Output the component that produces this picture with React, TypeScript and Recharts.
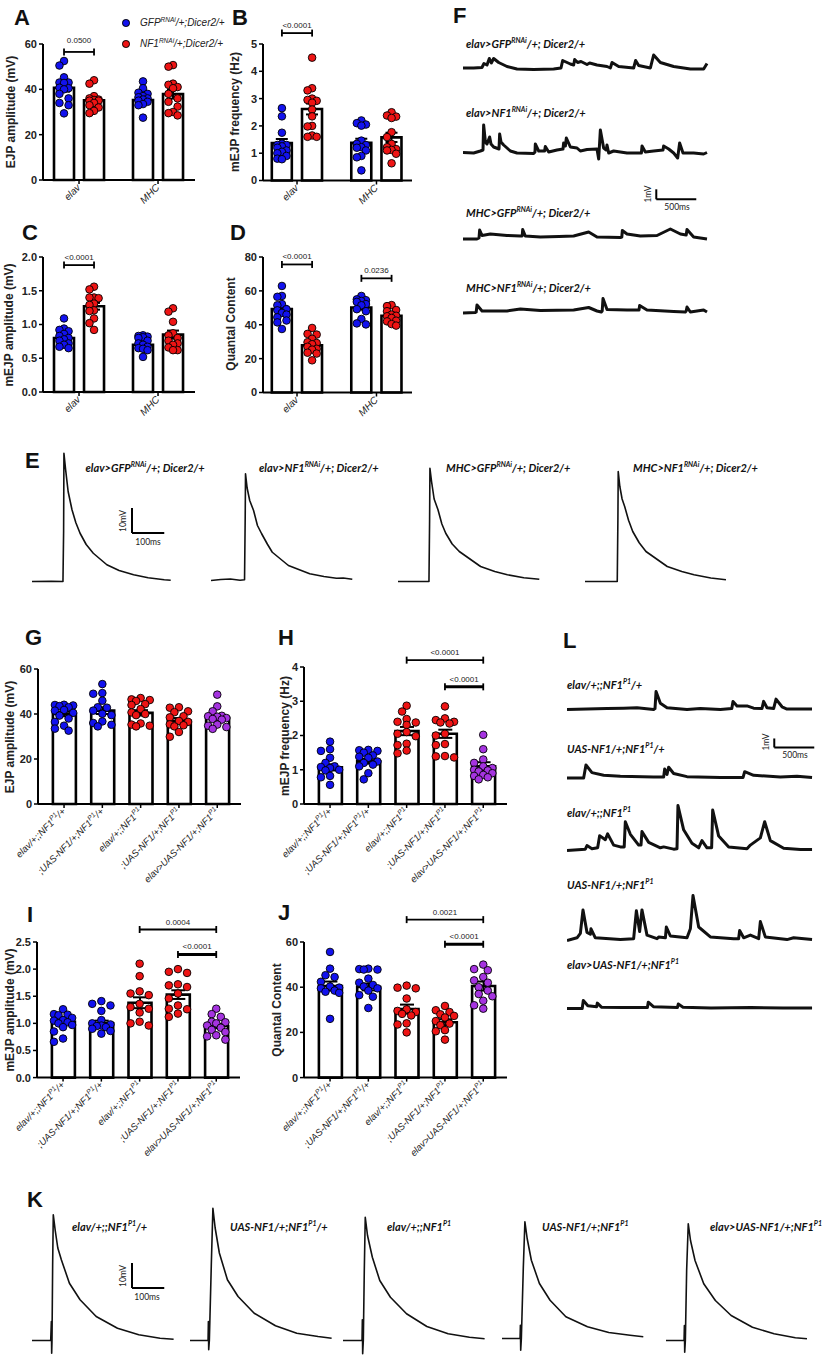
import React from 'react';
import { ComposedChart, Bar, Scatter, XAxis, YAxis, ErrorBar, ReferenceLine, LineChart, Line } from 'recharts';

const FONT = '"Liberation Sans", Arial, sans-serif';
const TFONT = 'Lato, "Open Sans", sans-serif';
const BLUE = '#1212ee';
const RED = '#ee1414';
const PURPLE = '#a533e0';

// ---------------- Panels A-D (RNAi) ----------------
const rnaiCategories = ['elav', 'MHC'];
const legendLabels = ['GFP^{RNAi}/+;Dicer2/+', 'NF1^{RNAi}/+;Dicer2/+'];

// order: elav-GFP, elav-NF1, MHC-GFP, MHC-NF1
const aMeans = [40.7, 35.2, 35.3, 37.9];
const aSem = [1.7, 1.2, 1.1, 2.0];
const aElavGfp = [52.5, 50.5, 45.3, 43, 43, 42.8, 40.7, 40.5, 40, 38, 36, 34, 33, 29.4];
const aElavNf1 = [44, 42.5, 37, 36, 35.5, 35.3, 35, 35, 34, 33, 32, 30.5, 29.5];
const aMhcGfp = [43.5, 40.5, 38.5, 38, 37, 36.5, 36, 35.5, 35, 34.5, 33.5, 33, 27.5];
const aMhcNf1 = [50.7, 50, 42.5, 42, 41, 40.5, 38, 36, 34.5, 32.4, 30, 29.5, 28.5];

const bMeans = [1.37, 2.62, 1.38, 1.58];
const bSem = [0.15, 0.2, 0.15, 0.17];
const bElavGfp = [2.65, 2.35, 1.75, 1.35, 1.3, 1.3, 1.25, 1.2, 1.1, 1.05, 1.0, 0.9, 0.8, 0.78];
const bElavNf1 = [4.5, 3.38, 3.3, 3.0, 2.95, 2.92, 2.85, 2.6, 2.35, 2.0, 1.98, 1.65, 1.6, 1.6];
const bMhcGfp = [2.2, 2.1, 2.05, 2.01, 1.46, 1.34, 1.3, 1.22, 1.2, 1.1, 0.9, 0.85, 0.37];
const bMhcNf1 = [2.5, 2.38, 2.34, 2.29, 1.77, 1.59, 1.34, 1.22, 1.15, 1.12, 1.1, 0.98, 0.63];

const cMeans = [0.8, 1.27, 0.7, 0.85];
const cSem = [0.03, 0.05, 0.03, 0.06];
const cElavGfp = [1.09, 0.94, 0.92, 0.9, 0.86, 0.83, 0.8, 0.78, 0.76, 0.72, 0.7, 0.67, 0.65];
const cElavNf1 = [1.56, 1.52, 1.4, 1.4, 1.39, 1.31, 1.29, 1.21, 1.2, 1.09, 1.02, 0.92];
const cMhcGfp = [0.84, 0.83, 0.82, 0.81, 0.8, 0.76, 0.72, 0.7, 0.67, 0.65, 0.64, 0.62, 0.52];
const cMhcNf1 = [1.24, 1.19, 1.04, 0.87, 0.84, 0.8, 0.76, 0.72, 0.7, 0.66, 0.62, 0.62];

const dMeans = [49.3, 27.8, 50.2, 45.3];
const dSem = [1.8, 1.4, 1.3, 1.0];
const dElavGfp = [62.9, 57, 56.5, 52.2, 51.5, 49.2, 48.5, 47, 46, 44.4, 42.5, 41.4, 37.5];
const dElavNf1 = [38.1, 34.6, 34.2, 31.7, 29.7, 29.2, 28.5, 27, 25.8, 25.3, 23.5, 23, 19];
const dMhcGfp = [57, 55, 54.5, 54, 53.5, 52.2, 51.5, 49.2, 48, 43.4, 40.8, 40.2];
const dMhcNf1 = [51.6, 51, 48.7, 48, 46, 45.3, 45, 44, 42.4, 42, 40.4, 39.5];

// ---------------- Panels G-J (NF1 P1 rescue) ----------------
const rescueCategories = [
  'elav/+;;NF1^{P1}/+',
  ';UAS-NF1/+;NF1^{P1}/+',
  'elav/+;;NF1^{P1}',
  ';UAS-NF1/+;NF1^{P1}',
  'elav>UAS-NF1/+;NF1^{P1}',
];
const rescueColors = [BLUE, BLUE, RED, RED, PURPLE];

const gMeans = [40.0, 41.5, 40.5, 37.0, 38.3];
const gSem = [1.0, 1.5, 1.2, 1.2, 1.1];
const gElavHet = [44.1, 44, 43.8, 43.5, 43, 41.8, 41.5, 40.5, 39.3, 38, 36.5, 34.8, 33.5, 32.6];
const gUasHet = [53.3, 49.3, 49, 45.9, 43, 42.8, 41.5, 40.1, 39.5, 36.7, 36, 35.2, 34.5];
const gElavMut = [47.1, 46.5, 46.2, 45.8, 44.4, 44, 42.2, 40.7, 40, 39.5, 35.8, 35.3, 34.8, 34.5];
const gUasMut = [43, 42.8, 41.2, 40.8, 39, 38.5, 36.9, 36.5, 35.4, 35, 34.5, 32, 29.9];
const gRescue = [48.6, 43.4, 41.2, 39.2, 39, 38.8, 38.2, 37.8, 37.5, 35.3, 34.8, 34.2, 33.4];

const hMeans = [1.07, 1.25, 2.13, 2.05, 1.1];
const hSem = [0.09, 0.07, 0.12, 0.12, 0.12];
const hElavHet = [1.82, 1.6, 1.55, 1.35, 1.2, 1.1, 1.08, 1.05, 1.0, 0.98, 0.82, 0.78, 0.56];
const hUasHet = [1.58, 1.57, 1.55, 1.5, 1.42, 1.38, 1.35, 1.24, 1.2, 1.15, 1.1, 0.9, 0.72];
const hElavMut = [2.87, 2.7, 2.48, 2.4, 2.38, 2.31, 2.1, 2.05, 1.98, 1.76, 1.72, 1.56, 1.48];
const hUasMut = [2.85, 2.5, 2.45, 2.4, 2.38, 2.35, 2.05, 2.0, 1.75, 1.72, 1.4, 1.39, 1.36];
const hRescue = [2.02, 1.6, 1.3, 1.2, 1.1, 1.05, 1.0, 0.98, 0.95, 0.9, 0.85, 0.82, 0.78, 0.72];

const iMeans = [1.03, 1.0, 1.38, 1.53, 0.95];
const iSem = [0.05, 0.05, 0.1, 0.08, 0.04];
const iElavHet = [1.26, 1.17, 1.16, 1.15, 1.1, 1.06, 1.05, 1.02, 1.0, 0.97, 0.93, 0.85, 0.72, 0.66];
const iUasHet = [1.41, 1.36, 1.33, 1.23, 1.06, 1.0, 0.98, 0.96, 0.95, 0.93, 0.9, 0.86, 0.81];
const iElavMut = [2.1, 1.87, 1.59, 1.55, 1.52, 1.36, 1.3, 1.27, 1.2, 1.03, 1.0, 0.96];
const iUasMut = [2.0, 1.95, 1.93, 1.72, 1.7, 1.67, 1.55, 1.46, 1.33, 1.27, 1.26, 1.18, 1.12];
const iRescue = [1.27, 1.17, 1.12, 1.03, 1.02, 1.0, 0.96, 0.92, 0.88, 0.84, 0.78, 0.76, 0.7];

const jMeans = [40.5, 40.1, 30.3, 24.5, 40.5];
const jSem = [2.0, 1.5, 2.0, 1.3, 2.0];
const jElavHet = [55.6, 48.2, 45.3, 44.5, 42.4, 40.3, 39.8, 39.5, 38.5, 38, 37.5, 26];
const jUasHet = [48.2, 48, 47.8, 47.8, 43.8, 42, 41, 40.3, 39.5, 38.5, 36.5, 35.8, 30.8];
const jElavMut = [40.7, 39.8, 39.5, 35, 30.2, 29.5, 29, 28.2, 27.5, 24, 23.5, 20];
const jUasMut = [31.7, 29.8, 29, 28, 27.3, 26.6, 25, 23.9, 23.2, 21, 20.5, 16.8];
const jRescue = [50, 48, 47.5, 44.5, 43, 42, 40, 38.5, 37, 36, 34, 32, 30.5];

// significance annotations (category positions, value level, p-value text)
const aBrackets = [{ x1: -0.19, x2: 0.19, y: 56.5, text: '0.0500', gap: 9 }];
const bBrackets = [{ x1: -0.19, x2: 0.19, y: 5.4, text: '<0.0001' }];
const cBrackets = [{ x1: -0.19, x2: 0.19, y: 1.88, text: '<0.0001' }];
const dBrackets = [
  { x1: -0.19, x2: 0.19, y: 75.6, text: '<0.0001' },
  { x1: 0.81, x2: 1.19, y: 67.4, text: '0.0236' },
];
const hBrackets = [
  { x1: 2, x2: 4, y: 4.2, text: '<0.0001' },
  { x1: 3, x2: 4, y: 3.42, text: '<0.0001', bold: true },
];
const iBrackets = [
  { x1: 2, x2: 4, y: 2.73, text: '0.0004' },
  { x1: 3, x2: 4, y: 2.27, text: '<0.0001', bold: true },
];
const jBrackets = [
  { x1: 2, x2: 4, y: 69.9, text: '0.0021' },
  { x1: 3, x2: 4, y: 59, text: '<0.0001', bold: true },
];

// ---------------- Traces (t in ms, V in mV relative to baseline) ----------------
const rnaiTraceLabels = [
  'elav>GFP^{RNAi}/+; Dicer2/+',
  'elav>NF1^{RNAi}/+; Dicer2/+',
  'MHC>GFP^{RNAi}/+; Dicer2/+',
  'MHC>NF1^{RNAi}/+; Dicer2/+',
];
const rescueTraceLabels = [
  'elav/+;;NF1^{P1}/+',
  'UAS-NF1/+;NF1^{P1}/+',
  'elav/+;;NF1^{P1}',
  'UAS-NF1/+;NF1^{P1}',
  'elav>UAS-NF1/+;NF1^{P1}',
];

const f1Trace = [[0,0],[133,0],[237,0.05],[262,0.45],[300,0.3],[329,0.95],[354,0.5],[383,0.95],[446,0.55],[550,0.15],[675,-0.1],[883,-0.15],[1133,-0.1],[1225,0],[1246,0.75],[1342,0.4],[1383,0.3],[1396,0.85],[1433,0.55],[1475,0.65],[1550,0.35],[1583,0.5],[1675,0.3],[1800,0.15],[1842,0],[1863,0.55],[1946,0.15],[2133,0],[2158,0.75],[2196,0.25],[2342,0],[2383,1.3],[2467,0.55],[2633,0.15],[2842,-0.1],[3008,-0.1],[3050,0.45]];
const f2Trace = [[0,0.15],[133,0.1],[217,0.3],[250,0.4],[258,2.9],[280,1.2],[300,1.0],[333,1.7],[350,1.0],[383,0.7],[450,0.5],[458,2.0],[475,1.2],[508,0.9],[592,0.3],[675,0.1],[883,0.05],[900,0.2],[904,1.0],[946,0.3],[1020,0.3],[1029,0.75],[1071,0.2],[1175,0.4],[1250,0.5],[1258,1.1],[1280,0.8],[1292,1.6],[1342,0.7],[1425,0.6],[1467,0.3],[1550,0.45],[1675,0.5],[1696,-0.5],[1717,2.4],[1758,0.6],[1790,0.4],[1800,0.9],[1821,0.1],[1883,0.3],[2050,0.1],[2230,0.1],[2238,0.8],[2279,0.2],[2383,0.3],[2500,0.4],[2508,0.8],[2571,0.5],[2633,0.1],[2683,-0.4],[2708,1.1],[2750,0.1],[2883,0.1],[3008,0],[3050,0.15]];
const f3Trace = [[0,0],[175,0],[200,0.1],[208,0.9],[238,0.35],[342,0.5],[550,0.35],[717,0.3],[740,0.3],[746,0.95],[779,0.3],[967,0.2],[1200,0.25],[1383,0.3],[1571,0.7],[1675,0.2],[1967,0.15],[1985,0.2],[1992,0.85],[2050,0.5],[2217,0.3],[2425,0.35],[2592,1.0],[2717,0.5],[2790,0.4],[2800,0.95],[2883,0.2],[3050,0]];
const f4Trace = [[0,0],[154,0.05],[165,0.1],[175,0.8],[238,0.2],[550,0.2],[717,0.4],[967,0.25],[1383,0.3],[1571,0.55],[1675,0.2],[1729,0.1],[1740,0.2],[1750,1.45],[1800,0.35],[2050,0.3],[2200,0.3],[2208,0.75],[2300,0.3],[2633,0.15],[2779,0.1],[2790,0.2],[2800,0.6],[2842,0.1],[3008,0.3],[3050,0.1]];

const l1Trace = [[0,0],[500,0.1],[708,0.15],[875,0.2],[1083,0],[1100,0.1],[1113,2.0],[1167,0.7],[1250,0.2],[1500,0],[1667,0.1],[1917,0],[2060,0.1],[2075,0.9],[2125,0.4],[2250,0.4],[2333,0.15],[2437,0.1],[2458,0.9],[2500,0.2],[2583,0.1],[2613,1.15],[2688,0.3],[2750,0.05],[3063,0.05]];
const l2Trace = [[0,0],[208,0],[237,1.45],[312,0.6],[458,0.3],[667,0.2],[1083,0.1],[1208,0.1],[1221,1.0],[1250,0.4],[1271,1.2],[1333,0.5],[1500,0.15],[1917,0.05],[2200,0.05],[2221,0.7],[2333,0.3],[2667,0.1],[2875,0.2],[3063,0.05]];
const l3Trace = [[0,0],[229,0.15],[250,0.55],[312,0.2],[383,0.3],[408,1.65],[479,1.2],[508,1.85],[583,0.6],[667,0.4],[715,0.4],[729,3.2],[792,1.8],[896,0.6],[925,0.6],[937,2.1],[1021,0.9],[1167,0.3],[1208,0.4],[1333,0.15],[1375,0.2],[1387,5.0],[1458,2.3],[1562,0.8],[1646,0.3],[1687,1.1],[1750,0.3],[1808,0.3],[1821,4.5],[1896,1.6],[2021,0.4],[2250,0.2],[2292,0.6],[2417,1.4],[2471,3.2],[2542,1.1],[2708,0.25],[2917,0.1],[3063,0.1]];
const l4Trace = [[0,0],[125,0.3],[167,0.8],[200,3.4],[250,0.9],[292,0.7],[300,1.3],[354,0.3],[667,0.1],[833,0.2],[867,3.3],[908,1.0],[937,3.4],[1000,0.6],[1125,0.2],[1146,0.4],[1230,0.3],[1242,1.5],[1292,0.5],[1500,0.3],[1542,1.3],[1575,5.0],[1646,1.5],[1792,0.4],[2083,0.2],[2145,0.2],[2158,1.1],[2208,0.3],[2292,0.6],[2396,0.2],[2417,2.1],[2479,0.4],[2750,0.1],[2833,0.3],[3063,0.1]];
const l5Trace = [[0,0],[190,0],[204,0.9],[260,0.3],[370,0.2],[379,0.6],[430,0.15],[700,0.1],[1005,0.1],[1016,0.7],[1080,0.2],[1380,0.1],[1391,0.5],[1450,0.15],[1800,0.05],[2300,0.1],[2700,0.05],[3063,0.05]];

const e1Trace = [[0,0],[60,0.1],[96,0],[98,20],[99,51.3],[104,45],[112,36],[124,28.7],[136,23.5],[149,19.3],[168,14.8],[190,11.3],[232,6.7],[270,4.4],[315,2.7],[360,1.5],[410,0.7],[430,0.5]];
const e2Trace = [[0,0],[30,0.4],[60,0.6],[90,0.1],[104,0.3],[106,25],[107,42.7],[112,37],[120,32],[132,28],[144,22],[157,18.7],[175,14.5],[190,11.3],[240,6],[306,2.7],[350,1.6],[389,0.9],[410,1.0],[438,0.5]];
const e3Trace = [[0,0],[96,0],[98,25],[99,45.3],[104,40],[112,33],[124,28.7],[136,23],[148,19.3],[168,15],[190,12],[256,6],[300,4],[339,2.7],[390,1.5],[438,0.9]];
const e4Trace = [[0,0],[100,0],[102,25],[103,44],[108,38],[115,33],[123,30],[135,24.5],[148,20],[168,15.5],[189,12],[255,6],[300,4],[338,2.7],[390,1.4],[437,0.7]];

const k1Trace = [[0,0],[58,0],[60,7.6],[61,-5.1],[62,0],[64,30],[66,50.3],[72,44],[80,37],[91,32.3],[116,22.9],[149,16.3],[199,9.6],[265,4.9],[331,2.3],[397,0.9],[439,0.5]];
const k2Trace = [[0,0],[56,0],[57,7.6],[58,-3.7],[60,0],[66,30],[71,52.9],[78,45],[91,35],[116,24.3],[149,17.6],[199,10.9],[265,5.9],[331,2.9],[397,1.6],[439,0.9]];
const k3Trace = [[0,0],[59,0],[60,8.3],[61,-5.3],[63,0],[66,28],[69,49.3],[76,42],[91,33.3],[114,24],[147,17.3],[197,10.7],[260,5.6],[326,2.7],[392,1.3],[439,0.7]];
const k4Trace = [[0,0],[56,0],[57,5.3],[58,-4.7],[60,0],[66,28],[71,46.7],[78,40],[91,31.3],[116,22],[149,15.3],[198,8.7],[265,4.7],[331,2.4],[397,1.3],[438,0.7]];
const k5Trace = [[0,0],[56,0],[57,6],[58,-4.7],[60,0],[64,28],[69,46.7],[76,40],[90,32],[117,22.7],[153,16],[202,10],[268,5.3],[335,2.7],[401,1.1],[437,0.7]];

// ---------------- helpers ----------------
function parseRich(s) {
  const out = [];
  const re = /\^\{([^}]*)\}/g;
  let last = 0;
  let m;
  while ((m = re.exec(s))) {
    if (m.index > last) out.push({ t: s.slice(last, m.index), sup: false });
    out.push({ t: m[1], sup: true });
    last = m.index + m[0].length;
  }
  if (last < s.length) out.push({ t: s.slice(last), sup: false });
  return out;
}

function Rich({ text, supSize }) {
  return (
    <>
      {parseRich(text).map((p, i) =>
        p.sup ? (
          <sup key={i} style={{ fontSize: supSize, verticalAlign: 'super', lineHeight: 0 }}>{p.t}</sup>
        ) : (
          <span key={i}>{p.t}</span>
        )
      )}
    </>
  );
}

function swarm(values, ppu, r, maxOff) {
  const order = values.map((_, i) => i).sort((a, b) => values[b] - values[a]);
  const step = r * 1.2;
  const cands = [0];
  for (let k = 1; k * step <= maxOff + 0.01; k++) cands.push(-k * step, k * step);
  const placed = [];
  const offs = new Array(values.length).fill(0);
  for (const i of order) {
    const y = values[i] * ppu;
    let best = 0;
    let bestScore = -Infinity;
    for (const c of cands) {
      let minD = Infinity;
      for (const p of placed) {
        const d = Math.hypot(p.x - c, p.y - y);
        if (d < minD) minD = d;
      }
      if (minD >= 2 * r * 0.88) { best = c; break; }
      if (minD > bestScore) { bestScore = minD; best = c; }
    }
    placed.push({ x: best, y });
    offs[i] = best;
  }
  return offs;
}

function makeXTick(labels, fs) {
  return (props) => {
    const { x, y, payload } = props;
    const label = labels[Math.round(payload.value)] || '';
    const parts = parseRich(label);
    let inSup = false;
    const spans = parts.map((p, i) => {
      let dy;
      if (p.sup && !inSup) dy = -fs * 0.4;
      else if (!p.sup && inSup) dy = fs * 0.4;
      inSup = p.sup;
      return (
        <tspan key={i} dy={dy} fontSize={p.sup ? fs * 0.72 : fs}>{p.t}</tspan>
      );
    });
    return (
      <g transform={`translate(${x},${y}) rotate(-45)`}>
        <text x={0} y={fs * 0.3} textAnchor="end" fontStyle="italic" fill="#222" fontSize={fs}>{spans}</text>
      </g>
    );
  };
}

const DotShape = (props) => {
  const { cx, cy, payload } = props;
  if (cx == null || cy == null) return null;
  return <circle cx={cx + (payload.jx || 0)} cy={cy} r={3.8} fill={payload.color} stroke="#000" strokeWidth={0.9} />;
};

function rnaiCfg(means, sems, values) {
  const xs = [-0.19, 0.19, 0.81, 1.19];
  const colors = [BLUE, RED, BLUE, RED];
  return {
    bars: means.map((m, i) => ({ x: xs[i], mean: m, sem: sems[i] })),
    groups: values.map((v, i) => ({ x: xs[i], values: v, color: colors[i] })),
  };
}
function rescueCfg(means, sems, values) {
  return {
    bars: means.map((m, i) => ({ x: i, mean: m, sem: sems[i] })),
    groups: values.map((v, i) => ({ x: i, values: v, color: rescueColors[i] })),
  };
}

const fmt1 = (v) => v.toFixed(1);

const panels = [
  {
    id: 'A', plot: { x: 43, y: 44, w: 152, h: 136 }, xDomain: [-0.456, 1.468], xTicks: [0, 1], xLabels: rnaiCategories, xFont: 10,
    yDomain: [0, 60], yTicks: [0, 20, 40, 60], yLabel: 'EJP amplitude (mV)', yLabelX: 11, barSize: 20, capW: 6, maxOff: 9, B: 45,
    brackets: aBrackets, ...rnaiCfg(aMeans, aSem, [aElavGfp, aElavNf1, aMhcGfp, aMhcNf1]),
  },
  {
    id: 'B', plot: { x: 263, y: 43.5, w: 149, h: 136.5 }, xDomain: [-0.428, 1.447], xTicks: [0, 1], xLabels: rnaiCategories, xFont: 10,
    yDomain: [0, 5], yTicks: [0, 1, 2, 3, 4, 5], yLabel: 'mEJP frequency (Hz)', yLabelX: 235, barSize: 20, capW: 6, maxOff: 9, B: 45,
    brackets: bBrackets, ...rnaiCfg(bMeans, bSem, [bElavGfp, bElavNf1, bMhcGfp, bMhcNf1]),
  },
  {
    id: 'C', plot: { x: 43, y: 257, w: 152, h: 135 }, xDomain: [-0.456, 1.468], xTicks: [0, 1], xLabels: rnaiCategories, xFont: 10,
    yDomain: [0, 2], yTicks: [0, 0.5, 1, 1.5, 2], yFmt: fmt1, yLabel: 'mEJP amplitude (mV)', yLabelX: 9, barSize: 20, capW: 6, maxOff: 9, B: 45,
    brackets: cBrackets, ...rnaiCfg(cMeans, cSem, [cElavGfp, cElavNf1, cMhcGfp, cMhcNf1]),
  },
  {
    id: 'D', plot: { x: 263, y: 256.5, w: 149, h: 135.5 }, xDomain: [-0.428, 1.447], xTicks: [0, 1], xLabels: rnaiCategories, xFont: 10,
    yDomain: [0, 80], yTicks: [0, 20, 40, 60, 80], yLabel: 'Quantal Content', yLabelX: 231, barSize: 20, capW: 6, maxOff: 9, B: 45,
    brackets: dBrackets, ...rnaiCfg(dMeans, dSem, [dElavGfp, dElavNf1, dMhcGfp, dMhcNf1]),
  },
  {
    id: 'G', plot: { x: 37.5, y: 669.3, w: 203, h: 135 }, xDomain: [-0.68, 4.62], xTicks: [0, 1, 2, 3, 4], xLabels: rescueCategories, xFont: 9.5,
    yDomain: [0, 60], yTicks: [0, 20, 40, 60], yLabel: 'EJP amplitude (mV)', yLabelX: 10, barSize: 23, capW: 7, maxOff: 11, B: 95,
    brackets: [], ...rescueCfg(gMeans, gSem, [gElavHet, gUasHet, gElavMut, gUasMut, gRescue]),
  },
  {
    id: 'H', plot: { x: 304, y: 667, w: 203, h: 137 }, xDomain: [-0.68, 4.62], xTicks: [0, 1, 2, 3, 4], xLabels: rescueCategories, xFont: 9.5,
    yDomain: [0, 4], yTicks: [0, 1, 2, 3, 4], yLabel: 'mEJP frequency (Hz)', yLabelX: 285, barSize: 23, capW: 7, maxOff: 11, B: 95,
    brackets: hBrackets, ...rescueCfg(hMeans, hSem, [hElavHet, hUasHet, hElavMut, hUasMut, hRescue]),
  },
  {
    id: 'I', plot: { x: 37, y: 941.7, w: 203, h: 135.6 }, xDomain: [-0.68, 4.62], xTicks: [0, 1, 2, 3, 4], xLabels: rescueCategories, xFont: 9.5,
    yDomain: [0, 2.5], yTicks: [0, 0.5, 1, 1.5, 2, 2.5], yFmt: fmt1, yLabel: 'mEJP amplitude (mV)', yLabelX: 10, barSize: 23, capW: 7, maxOff: 11, B: 95,
    brackets: iBrackets, ...rescueCfg(iMeans, iSem, [iElavHet, iUasHet, iElavMut, iUasMut, iRescue]),
  },
  {
    id: 'J', plot: { x: 304, y: 941.7, w: 203, h: 135.6 }, xDomain: [-0.68, 4.62], xTicks: [0, 1, 2, 3, 4], xLabels: rescueCategories, xFont: 9.5,
    yDomain: [0, 60], yTicks: [0, 20, 40, 60], yLabel: 'Quantal Content', yLabelX: 277, barSize: 23, capW: 7, maxOff: 11, B: 95,
    brackets: jBrackets, ...rescueCfg(jMeans, jSem, [jElavHet, jUasHet, jElavMut, jUasMut, jRescue]),
  },
];

function BarPanel({ c }) {
  const L = 40, T = 40, R = 12;
  const width = c.plot.w + L + R;
  const height = c.plot.h + T + c.B;
  const ppu = c.plot.h / (c.yDomain[1] - c.yDomain[0]);
  const capHalf = 3.5 / ppu;
  const pointSets = c.groups.map((g) => {
    const offs = swarm(g.values, ppu, 3.8, c.maxOff);
    return { color: g.color, pts: g.values.map((v, i) => ({ x: g.x, y: v, jx: offs[i], color: g.color })) };
  });
  return (
    <>
      <div style={{ position: 'absolute', left: c.plot.x - L, top: c.plot.y - T }}>
        <ComposedChart width={width} height={height} data={c.bars} margin={{ top: T, right: R, bottom: 0, left: 0 }}>
          <XAxis
            xAxisId="b" type="number" dataKey="x" domain={c.xDomain} ticks={c.xTicks} interval={0} height={c.B}
            tick={makeXTick(c.xLabels, c.xFont)} tickSize={4} tickMargin={2}
            tickLine={{ stroke: '#000', strokeWidth: 1.5 }} axisLine={{ stroke: '#000', strokeWidth: 2 }}
          />
          <XAxis xAxisId="p" type="number" dataKey="x" domain={c.xDomain} hide />
          <YAxis
            yAxisId="y" type="number" domain={c.yDomain} ticks={c.yTicks} interval={0} width={L}
            tickFormatter={c.yFmt || ((v) => String(v))} tickSize={4} tickMargin={2}
            tick={{ fontSize: 11, fontWeight: 700, fill: '#222' }}
            tickLine={{ stroke: '#000', strokeWidth: 1.5 }} axisLine={{ stroke: '#000', strokeWidth: 2 }}
          />
          <Bar xAxisId="b" yAxisId="y" dataKey="mean" barSize={c.barSize} fill="#fff" stroke="#000" strokeWidth={2.6} isAnimationActive={false}>
            <ErrorBar dataKey="sem" width={c.capW} stroke="#000" strokeWidth={2} direction="y" />
          </Bar>
          {pointSets.map((s, i) => (
            <Scatter key={i} xAxisId="p" yAxisId="y" data={s.pts} dataKey="y" fill={s.color} shape={DotShape} isAnimationActive={false} />
          ))}
          {c.brackets.map((b, i) => (
            <ReferenceLine key={'h' + i} xAxisId="b" yAxisId="y" ifOverflow="visible"
              segment={[{ x: b.x1, y: b.y }, { x: b.x2, y: b.y }]}
              stroke="#000" strokeWidth={b.bold ? 3 : 1.8}
              label={{ value: b.text, position: 'top', offset: b.gap || 5, fontSize: 8, fill: '#222' }}
            />
          ))}
          {c.brackets.map((b, i) => (
            <ReferenceLine key={'l' + i} xAxisId="b" yAxisId="y" ifOverflow="visible"
              segment={[{ x: b.x1, y: b.y - capHalf }, { x: b.x1, y: b.y + capHalf }]} stroke="#000" strokeWidth={1.8} />
          ))}
          {c.brackets.map((b, i) => (
            <ReferenceLine key={'r' + i} xAxisId="b" yAxisId="y" ifOverflow="visible"
              segment={[{ x: b.x2, y: b.y - capHalf }, { x: b.x2, y: b.y + capHalf }]} stroke="#000" strokeWidth={1.8} />
          ))}
        </ComposedChart>
      </div>
      <div
        style={{
          position: 'absolute', left: c.yLabelX, top: c.plot.y + c.plot.h / 2,
          transform: 'translate(-50%, -50%) rotate(-90deg)', whiteSpace: 'nowrap',
          fontSize: 12, fontWeight: 700, color: '#222', lineHeight: '14px',
        }}
      >
        {c.yLabel}
      </div>
    </>
  );
}

function Trace({ data, left, baseline, pxPerMv, msPerPx, vMin, vMax, tMax, sw, bar }) {
  const width = tMax / msPerPx;
  const height = (vMax - vMin) * pxPerMv;
  const top = baseline - vMax * pxPerMv;
  const rows = data.map(([t, v]) => ({ t, v }));
  return (
    <div style={{ position: 'absolute', left, top }}>
      <LineChart width={width} height={height} data={rows} margin={{ top: 0, right: 0, bottom: 0, left: 0 }}>
        <XAxis type="number" dataKey="t" domain={[0, tMax]} hide />
        <YAxis type="number" domain={[vMin, vMax]} hide />
        <Line dataKey="v" type="linear" stroke="#111" strokeWidth={sw} dot={false} isAnimationActive={false} strokeLinejoin="round" />
        {bar && (
          <ReferenceLine segment={[{ x: bar.t, y: bar.v }, { x: bar.t + bar.dt, y: bar.v }]} stroke="#000" strokeWidth={2} ifOverflow="visible" />
        )}
        {bar && (
          <ReferenceLine segment={[{ x: bar.t, y: bar.v }, { x: bar.t, y: bar.v + bar.dv }]} stroke="#000" strokeWidth={2} ifOverflow="visible" />
        )}
      </LineChart>
    </div>
  );
}

const EK = { pxPerMv: 2.5, msPerPx: 3.1, vMin: -7, vMax: 55, tMax: 445, sw: 1.6 };
const FS = { pxPerMv: 10, msPerPx: 12.5, tMax: 3100, sw: 3 };
const LS = { pxPerMv: 9, msPerPx: 12.5, tMax: 3125, sw: 3 };

const traceSpecs = [
  { data: e1Trace, left: 32, baseline: 581.7, ...EK, bar: { t: 310, v: 19.4, dt: 100, dv: 10 } },
  { data: e2Trace, left: 211, baseline: 580, ...EK },
  { data: e3Trace, left: 398, baseline: 581.7, ...EK },
  { data: e4Trace, left: 585, baseline: 581.7, ...EK },
  { data: k1Trace, left: 32, baseline: 1340.7, ...EK, bar: { t: 310, v: 21, dt: 100, dv: 10 } },
  { data: k2Trace, left: 189.5, baseline: 1340.7, ...EK },
  { data: k3Trace, left: 343, baseline: 1340, ...EK },
  { data: k4Trace, left: 502, baseline: 1338.3, ...EK },
  { data: k5Trace, left: 666, baseline: 1340, ...EK },
  { data: f1Trace, left: 462.7, baseline: 68.3, vMin: -1, vMax: 1.8, ...FS },
  { data: f2Trace, left: 462.7, baseline: 154, vMin: -5, vMax: 3.3, ...FS, bar: { t: 2416, v: -4.53, dt: 500, dv: 1 } },
  { data: f3Trace, left: 462.7, baseline: 239.3, vMin: -1, vMax: 1.5, ...FS },
  { data: f4Trace, left: 462.7, baseline: 313.3, vMin: -1, vMax: 1.9, ...FS },
  { data: l1Trace, left: 566.7, baseline: 709.3, vMin: -4.6, vMax: 2.5, ...LS, bar: { t: 2591, v: -4.22, dt: 500, dv: 1 } },
  { data: l2Trace, left: 566.7, baseline: 778.3, vMin: -1, vMax: 2, ...LS },
  { data: l3Trace, left: 566.7, baseline: 850, vMin: -1, vMax: 5.5, ...LS },
  { data: l4Trace, left: 566.7, baseline: 940, vMin: -1, vMax: 5.5, ...LS },
  { data: l5Trace, left: 566.7, baseline: 1008, vMin: -1, vMax: 1.5, ...LS },
];

const traceLabelPos = [
  ...rnaiTraceLabels.map((t, i) => ({ text: t, left: 466, cy: [44, 113, 213, 288][i] })),
  ...rnaiTraceLabels.map((t, i) => ({ text: t, left: [85.5, 259, 446, 633][i], cy: 468 })),
  ...rescueTraceLabels.map((t, i) => ({ text: t, left: 567, cy: [685, 749, 813, 885, 965][i] })),
  ...rescueTraceLabels.map((t, i) => ({ text: t, left: [72, 230, 387, 542, 710][i], cy: 1227 })),
];

const scaleTexts = [
  { text: '1mV', x: 648, y: 194, rot: true },
  { text: '500ms', x: 677, y: 207 },
  { text: '10mV', x: 123, y: 521, rot: true },
  { text: '100ms', x: 148, y: 542 },
  { text: '10mV', x: 123, y: 1276, rot: true },
  { text: '100ms', x: 147, y: 1297 },
  { text: '1mV', x: 766, y: 742, rot: true },
  { text: '500ms', x: 795, y: 755 },
];

const letters = [
  ['A', 14, 7], ['B', 232, 7], ['C', 22, 222], ['D', 230, 222], ['E', 25, 450], ['F', 453, 5],
  ['G', 25, 627], ['H', 278, 627], ['I', 27, 904], ['J', 278, 902], ['K', 27, 1189], ['L', 563, 630],
];

export default function App() {
  return (
    <div style={{ position: 'absolute', left: 0, top: 0, width: 837, height: 1358, background: '#fff', overflow: 'hidden', fontFamily: FONT }}>
      {panels.map((p) => <BarPanel key={p.id} c={p} />)}
      {traceSpecs.map((s, i) => <Trace key={i} {...s} />)}
      {letters.map(([t, x, y]) => (
        <div key={t} style={{ position: 'absolute', left: x, top: y, fontSize: 22, fontWeight: 700, lineHeight: '22px', color: '#111' }}>{t}</div>
      ))}
      {legendLabels.map((t, i) => (
        <React.Fragment key={t}>
          <div style={{ position: 'absolute', left: 122, top: [23, 44][i] - 4, width: 7.6, height: 7.6, borderRadius: '50%', background: [BLUE, RED][i], border: '0.9px solid #000', boxSizing: 'border-box' }} />
          <div style={{ position: 'absolute', left: 140, top: [23, 44][i] - 7, fontSize: 10, fontStyle: 'italic', lineHeight: '14px', color: '#222', whiteSpace: 'nowrap' }}>
            <Rich text={t} supSize={6.5} />
          </div>
        </React.Fragment>
      ))}
      {traceLabelPos.map((l, i) => (
        <div key={i} style={{ position: 'absolute', left: l.left, top: l.cy - 7, fontFamily: TFONT, fontSize: 11, fontWeight: 700, fontStyle: 'italic', lineHeight: '14px', color: '#111', whiteSpace: 'nowrap' }}>
          <Rich text={l.text} supSize={7} />
        </div>
      ))}
      {scaleTexts.map((s, i) => (
        <div key={i} style={{ position: 'absolute', left: s.x, top: s.y, transform: `translate(-50%, -50%)${s.rot ? ' rotate(-90deg)' : ''}`, fontFamily: TFONT, fontSize: 8.5, lineHeight: '10px', color: '#222', whiteSpace: 'nowrap' }}>
          {s.text}
        </div>
      ))}
    </div>
  );
}
